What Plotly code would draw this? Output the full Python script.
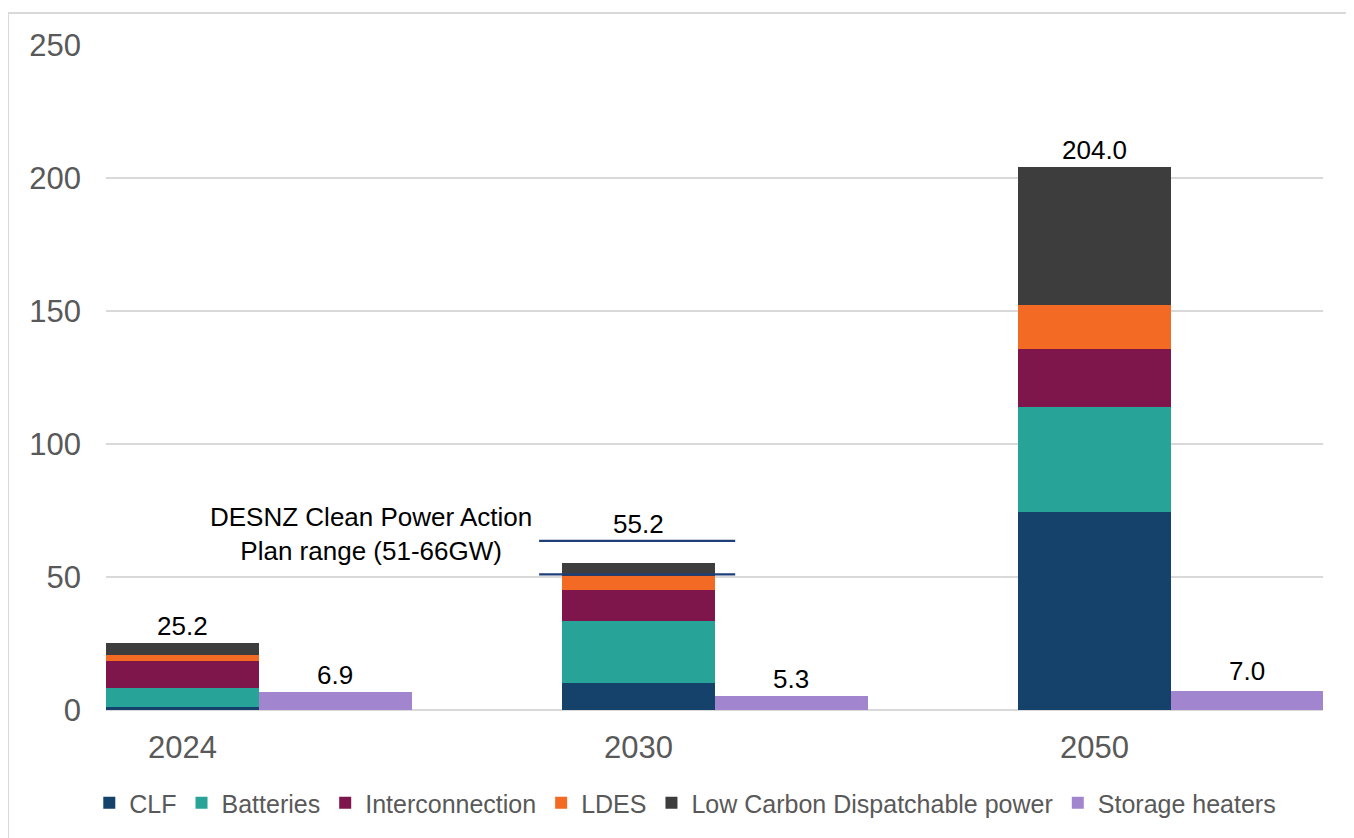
import plotly.graph_objects as go

# ---- data ----
years = ["2024", "2030", "2050"]
clf = [1.1, 10.0, 74.5]
batteries = [7.0, 23.4, 39.4]
interconnection = [10.2, 11.6, 22.0]
ldes = [2.3, 5.5, 16.3]
low_carbon_dispatchable = [4.6, 4.7, 51.8]
storage_heaters = [6.9, 5.3, 7.0]
totals = [25.2, 55.2, 204.0]
desnz_range = [51, 63.6]  # as drawn on the reference
y_ticks = [0, 50, 100, 150, 200, 250]

series = [
    ("CLF", clf, "#14426A"),
    ("Batteries", batteries, "#27A398"),
    ("Interconnection", interconnection, "#7E164B"),
    ("LDES", ldes, "#F26A23"),
    ("Low Carbon Dispatchable power", low_carbon_dispatchable, "#3D3D3D"),
]

FONT = "Liberation Sans, Arial, sans-serif"
BW = 0.335
xpos = list(range(len(years)))
xpos_sh = [i + BW for i in xpos]

fig = go.Figure()
for name, vals, col in series:
    fig.add_trace(go.Bar(x=xpos, y=vals, name=name, width=BW,
                         marker=dict(color=col, line=dict(width=0))))
fig.add_trace(go.Bar(x=xpos_sh, y=storage_heaters, name="Storage heaters", width=BW,
                     marker=dict(color="#A285CF", line=dict(width=0))))

annotations = []
shifts = [0, 22, 0]
for i, t in enumerate(totals):
    annotations.append(dict(x=xpos[i], y=t, text=f"{t:.1f}", showarrow=False,
                            yanchor="bottom", yshift=shifts[i],
                            font=dict(family=FONT, size=26, color="#000000")))
sh_shifts = [0, 0, 3]
for i, v in enumerate(storage_heaters):
    annotations.append(dict(x=xpos_sh[i], y=v, text=f"{v:.1f}", showarrow=False,
                            yanchor="bottom", yshift=sh_shifts[i],
                            font=dict(family=FONT, size=26, color="#000000")))
annotations.append(dict(x=0.413, y=66, text="DESNZ Clean Power Action<br>Plan range (51-66GW)",
                        showarrow=False, align="center",
                        font=dict(family=FONT, size=26, color="#000000")))

shapes = []
for r in desnz_range:
    shapes.append(dict(type="line", xref="x", yref="y", x0=1 - 0.218, x1=1 + 0.212,
                       y0=r, y1=r, line=dict(color="#1F3F7A", width=2.2)))
# chart border
shapes.append(dict(type="rect", xref="paper", yref="paper",
                   x0=-0.0805, x1=1.0225, y0=-0.2, y1=1.048,
                   line=dict(color="#D9D9D9", width=2), layer="below"))

fig.update_layout(
    width=1346, height=830,
    margin=dict(l=98, r=31, t=37, b=120),
    barmode="stack",
    bargap=0,
    plot_bgcolor="white", paper_bgcolor="white",
    font=dict(family=FONT, color="#595959"),
    showlegend=True,
    legend=dict(orientation="h", x=0.476, xanchor="center", y=-0.14, yanchor="middle",
                traceorder="normal", font=dict(family=FONT, size=25, color="#595959"),
                itemwidth=30),
    annotations=annotations,
    shapes=shapes,
    xaxis=dict(range=[-0.1678, 2.501], tickvals=xpos, ticktext=years,
               showgrid=False, zeroline=False, showline=False,
               tickfont=dict(family=FONT, size=31, color="#595959"),
               ticklabelstandoff=16),
    yaxis=dict(range=[0, 250], tickvals=y_ticks, showgrid=True, gridcolor="#D9D9D9",
               gridwidth=1.5, zeroline=True, zerolinecolor="#D9D9D9", zerolinewidth=2,
               tickfont=dict(family=FONT, size=31, color="#595959"),
               ticklabelstandoff=24),
)

fig.write_html("out.html")
